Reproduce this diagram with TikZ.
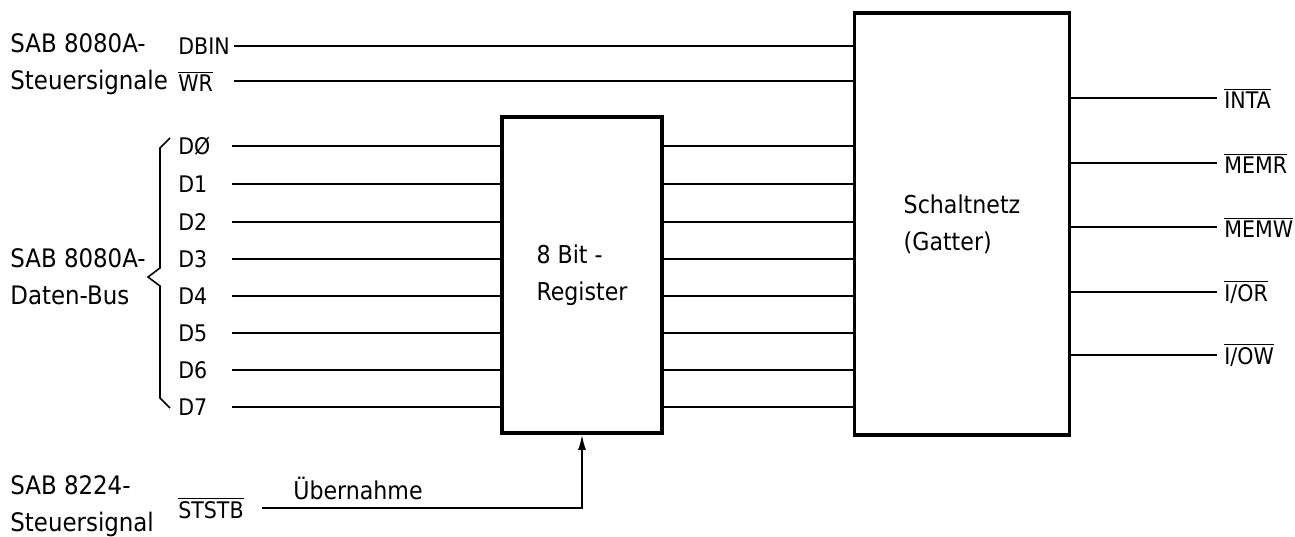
\documentclass[tikz,border=0pt]{standalone}
\usepackage{fontspec}
\setmainfont{DejaVu Sans Condensed}
\usepackage{tikz}
\usetikzlibrary{arrows.meta}
\tikzstyle{block} = [rectangle, draw=black, line width=2.2pt, align=left, inner sep=0pt, font=\fontsize{14}{21}\selectfont]
\tikzstyle{caption} = [inner sep=0pt, align=left, anchor=west, font=\fontsize{14.5}{21}\selectfont]
\tikzstyle{sig} = [inner sep=0pt, anchor=west, font=\fontsize{13}{14}\selectfont]
\tikzstyle{wire} = [line width=0.9pt]
\tikzstyle{flow} = [line width=0.9pt, -{Latex[length=3mm,width=1.6mm]}]
\newcommand{\inv}[1]{$\overline{\mbox{#1}}$}

\begin{document}
\begin{tikzpicture}[x=0.02cm, y=-0.02cm]
\useasboundingbox (0,0) rectangle (1295,537);

\node (reg) [block, minimum width=3.2cm, minimum height=6.32cm] at (582,275) {8 Bit -\\Register};
\node (gate) [block, minimum width=4.3cm, minimum height=8.44cm] at (962,224) {Schaltnetz\\(Gatter)};

\node (ctrl) [caption] at (10,64) {SAB 8080A-\\Steuersignale};
\node (bus) [caption] at (10,277) {SAB 8080A-\\Daten-Bus};
\node (strobe) [caption] at (10,506) {SAB 8224-\\Steuersignal};

\node (dbin) [sig] at (178,46) {DBIN};
\node (wr) [sig] at (178,81) {\inv{WR}};
\coordinate (dbinin) at (234,46);
\coordinate (wrin) at (234,81);
\draw[wire] (dbinin) -- (dbinin -| gate.west);
\draw[wire] (wrin) -- (wrin -| gate.west);

\foreach \i/\t/\y in {0/Ø/146, 1/1/184, 2/2/222, 3/3/259, 4/4/296, 5/5/333, 6/6/370, 7/7/407} {
  \node (d\i) [sig] at (178,\y) {D\t};
  \coordinate (in\i) at (232,\y);
  \draw[wire] (in\i) -- (in\i -| reg.west);
  \draw[wire] (reg.east |- in\i) -- (in\i -| gate.west);
}

\draw[wire] (170,138) -- (160,148) -- (160,268) -- (148,277) -- (160,286) -- (160,398) -- (170,408);

\node (inta) [sig] at (1224,98) {\inv{INTA}};
\node (memr) [sig] at (1224,163) {\inv{MEMR}};
\node (memw) [sig] at (1224,227) {\inv{MEMW}};
\node (ior) [sig] at (1224,292) {\inv{I/OR}};
\node (iow) [sig] at (1224,355) {\inv{I/OW}};
\foreach \n in {inta, memr, memw, ior, iow}
  \draw[wire] (gate.east |- \n.west) -- ([xshift=-4pt]\n.west);

\node (ststb) [sig] at (178,508) {\inv{STSTB}};
\coordinate (stbout) at (262,508);
\draw[flow] (stbout) -| node[pos=0.15, above, inner sep=4pt, font=\fontsize{14}{14}\selectfont] {Übernahme} (reg.south);

\end{tikzpicture}
\end{document}
